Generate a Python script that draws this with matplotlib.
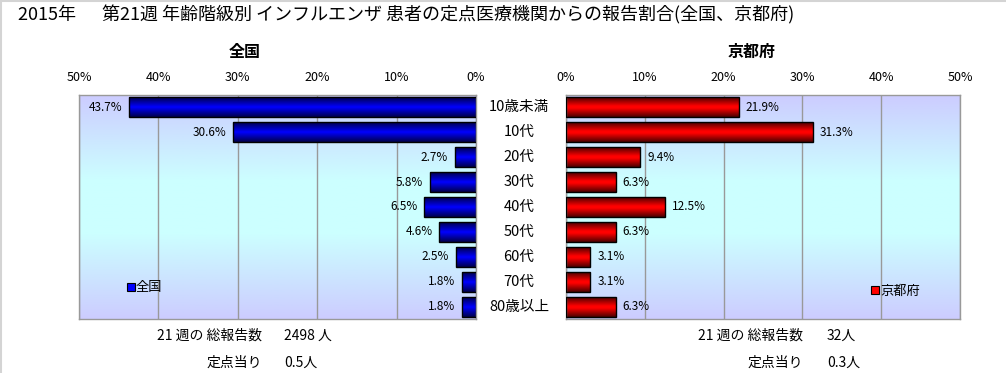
import numpy as np
import matplotlib
matplotlib.use("Agg")
import matplotlib.pyplot as plt
from matplotlib.colors import LinearSegmentedColormap
from matplotlib.lines import Line2D
import matplotlib.transforms as mtransforms

plt.rcParams['font.family'] = ['Noto Sans CJK JP', 'DejaVu Sans']

# DATA ------------------------------------------------------------
categories = ['10歳未満', '10代', '20代', '30代', '40代', '50代', '60代', '70代', '80歳以上']
national = [43.7, 30.6, 2.7, 5.8, 6.5, 4.6, 2.5, 1.8, 1.8]
kyoto = [21.9, 31.3, 9.4, 6.3, 12.5, 6.3, 3.1, 3.1, 6.3]
xticks = [0, 10, 20, 30, 40, 50]

title = "2015年　  第21週 年齢階級別 インフルエンザ 患者の定点医療機関からの報告割合(全国、京都府)"
week_label = "21 週の 総報告数"
per_point_label = "定点当り"
national_total = "2498 人"
national_per = "0.5人"
kyoto_total = "32人"
kyoto_per = "0.3人"

# STYLE -----------------------------------------------------------
bg_cmap = LinearSegmentedColormap.from_list(
    "bg", [(0.0, "#ccccff"), (0.38, "#ccffff"), (0.62, "#ccffff"), (1.0, "#ccccff")])
blue_cmap = LinearSegmentedColormap.from_list(
    "blu", [(0.0, "#00004a"), (0.5, "#0000ff"), (1.0, "#00004a")])
red_cmap = LinearSegmentedColormap.from_list(
    "red", [(0.0, "#4a0000"), (0.45, "#ff0000"), (0.55, "#ff0000"), (1.0, "#4a0000")])

W, H = 1006, 373
fig = plt.figure(figsize=(W / 100, H / 100), dpi=100)
fig.patch.set_facecolor("white")

ax_l = fig.add_axes([79 / W, 1 - 319 / H, (476 - 79) / W, (319 - 95) / H])
ax_r = fig.add_axes([566 / W, 1 - 319 / H, (960 - 566) / W, (319 - 95) / H])

grad = np.linspace(0, 1, 256).reshape(-1, 1)


def draw_panel(ax, values, cmap, color, side):
    ax.imshow(grad, cmap=bg_cmap, aspect='auto', extent=(0, 1, 0, 1),
              transform=ax.transAxes, zorder=0)
    y = np.arange(len(values))
    bars = ax.barh(y, values, height=0.8, facecolor='none',
                   edgecolor='black', linewidth=1.0, zorder=3)
    for b in bars:
        x0, w = b.get_x(), b.get_width()
        y0, h = b.get_y(), b.get_height()
        ax.imshow(grad, cmap=cmap, aspect='auto',
                  extent=(x0, x0 + w, y0 + h, y0), zorder=2)
    for yi, v in zip(y, values):
        if side == 'left':
            ax.annotate(f"{v:.1f}%", (v, yi), xytext=(-5, 0), textcoords='offset points',
                        ha='right', va='center', fontsize=8.5, zorder=4)
        else:
            ax.annotate(f"{v:.1f}%", (v, yi), xytext=(5, 0), textcoords='offset points',
                        ha='left', va='center', fontsize=8.5, zorder=4)
    ax.set_ylim(len(values) - 0.5, -0.5)
    if side == 'left':
        ax.set_xlim(50, 0)
    else:
        ax.set_xlim(0, 50)
    ax.set_xticks(xticks)
    ax.set_xticklabels([f"{t}%" for t in xticks], fontsize=9)
    ax.xaxis.tick_top()
    ax.tick_params(axis='x', length=0, pad=8)
    ax.set_yticks([])
    ax.set_axisbelow(True)
    ax.grid(axis='x', color='#999999', linewidth=1)
    for s in ax.spines.values():
        s.set_color('#999999')
        s.set_linewidth(1)
    handle = Line2D([], [], marker='s', linestyle='none', markersize=5.5,
                    markerfacecolor=color, markeredgecolor='black', markeredgewidth=0.8)
    return handle


h_l = draw_panel(ax_l, national, blue_cmap, '#0000ff', 'left')
h_r = draw_panel(ax_r, kyoto, red_cmap, '#ff0000', 'right')

ax_l.legend([h_l], ['全国'], loc='center left', bbox_to_anchor=(0.12, 0.14),
            frameon=False, fontsize=9.5, handlelength=0.6, handletextpad=0.1,
            borderpad=0, borderaxespad=0)
ax_r.legend([h_r], ['京都府'], loc='center left', bbox_to_anchor=(0.775, 0.125),
            frameon=False, fontsize=9.5, handlelength=0.6, handletextpad=0.1,
            borderpad=0, borderaxespad=0)

# category labels between the panels
trans = mtransforms.blended_transform_factory(fig.transFigure, ax_r.transData)
for i, c in enumerate(categories):
    fig.text(519 / W, i, c, transform=trans, ha='center', va='center', fontsize=10.5)

# titles
fig.text(18 / W, 1 - 15 / H, title, ha='left', va='center', fontsize=13)
fig.text(245 / W, 1 - 52 / H, '全国', ha='center', va='center', fontsize=11.5, fontweight='bold')
fig.text(752 / W, 1 - 52 / H, '京都府', ha='center', va='center', fontsize=11.5, fontweight='bold')

# footer
fig.text(262 / W, 1 - 336 / H, week_label, ha='right', va='center', fontsize=10)
fig.text(284 / W, 1 - 336 / H, national_total, ha='left', va='center', fontsize=10)
fig.text(262 / W, 1 - 363 / H, per_point_label, ha='right', va='center', fontsize=10)
fig.text(284 / W, 1 - 363 / H, national_per, ha='left', va='center', fontsize=10)
fig.text(803 / W, 1 - 336 / H, week_label, ha='right', va='center', fontsize=10)
fig.text(827 / W, 1 - 336 / H, kyoto_total, ha='left', va='center', fontsize=10)
fig.text(803 / W, 1 - 363 / H, per_point_label, ha='right', va='center', fontsize=10)
fig.text(827 / W, 1 - 363 / H, kyoto_per, ha='left', va='center', fontsize=10)

# light frame at top / left edge
fig.add_artist(Line2D([0, 1], [1 - 1 / H, 1 - 1 / H], transform=fig.transFigure,
                      color='#d4d4d4', linewidth=1.5))
fig.add_artist(Line2D([0.5 / W, 0.5 / W], [0, 1], transform=fig.transFigure,
                      color='#d4d4d4', linewidth=1.5))

fig.savefig("out.png", dpi=100)
